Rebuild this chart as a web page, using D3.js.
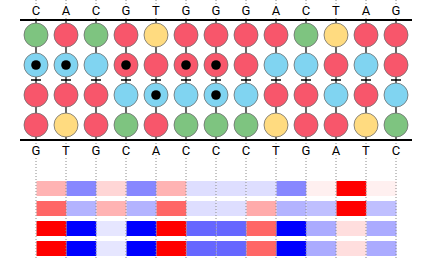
<!DOCTYPE html>
<html>
<head>
<meta charset="utf-8">
<script src="https://cdn.jsdelivr.net/npm/d3@7"></script>
<style>
  body { margin: 0; background: #fff; }
  svg { display: block; font-family: Roboto, "Liberation Sans", sans-serif; }
</style>
</head>
<body>
<svg class="seqChart"></svg>
<script>
// sequences and states
const topSeq    = ["C","A","C","G","T","G","G","G","A","C","T","A","G"];
const bottomSeq = ["G","T","G","C","A","C","C","C","T","G","A","T","C"];
const stateRow1 = ["u","u","u","m","m","m","m","m","u","u","m","u","m"];
const stateRow2 = ["m","m","m","u","u","u","u","u","m","m","u","m","u"];
const dotRow1   = [1,1,0,1,0,1,1,0,0,0,0,0,0];
const dotRow2   = [0,0,0,0,1,0,1,0,0,0,0,0,0];

// heat rows (negative = blue, positive = red), one value per gap between columns
const heat1 = [0.3, -0.47, 0.16, -0.47, 0.3, -0.13, -0.13, -0.13, -0.47, 0.06, 1, 0.06];
const heat2 = [0.6, -0.3, 0.3, -0.3, 0.6, -0.13, -0.13, 0.33, -0.3, -0.25, 1, -0.25];
const heat3 = [1, -1, -0.1, -1, 1, -0.6, -0.6, 0.6, -1, -0.33, 0.13, -0.33];
const heat4 = [1, -1, -0.1, -1, 1, -0.6, -0.6, 0.6, -1, -0.33, 0.13, -0.33];

const W = 439, H = 261;
const svg = d3.select(".seqChart").attr("width", W).attr("height", H);

const cols = d3.range(topSeq.length);
const x = d3.scalePoint().domain(cols).range([36, 396]);
const y = d3.scalePoint().domain([0, 1, 2, 3]).range([35, 125]);
const yHeat = d3.scaleBand().domain([0, 1, 2, 3]).range([181, 256]).paddingInner(0.25);

const fill = d3.scaleOrdinal()
    .domain(["A","G","C","T","m","u"])
    .range(["#f8566b","#f8566b","#7ec480","#ffdb80","#f8566b","#80d4f1"]);
const heatColor = d3.scaleLinear().domain([-1, 0, 1]).range(["#0000ff", "#ffffff", "#ff0000"]);

const circleRows = [topSeq, stateRow1, stateRow2, bottomSeq];
const dotRows = [null, dotRow1, dotRow2, null];
const heatRows = [heat1, heat2, heat3, heat4];

const strandTop = 20, strandBottom = 140;

// heatmap cells
heatRows.forEach(function(row, r) {
    svg.append("g").selectAll("rect")
        .data(row)
        .enter()
        .append("rect")
        .attr("x", (d, i) => x(i) + 0.5)
        .attr("width", (d, i) => x(i + 1) - x(i))
        .attr("y", yHeat(r))
        .attr("height", yHeat.bandwidth())
        .attr("fill", d => heatColor(d));
});

// dotted guides
const guides = svg.append("g").attr("stroke", "#8a8a8a").attr("stroke-dasharray", "1,2");
cols.forEach(function(i) {
    guides.append("line").attr("x1", x(i)).attr("x2", x(i)).attr("y1", 0).attr("y2", strandTop);
    guides.append("line").attr("x1", x(i)).attr("x2", x(i)).attr("y1", strandBottom).attr("y2", 258);
});

// connectors
cols.forEach(function(i) {
    svg.append("line")
        .attr("x1", x(i)).attr("x2", x(i))
        .attr("y1", strandTop).attr("y2", strandBottom)
        .attr("stroke", "black").attr("stroke-width", 1.2);
    const ym = (y(1) + y(2)) / 2;
    svg.append("line")
        .attr("x1", x(i) - 5).attr("x2", x(i) + 5)
        .attr("y1", ym).attr("y2", ym)
        .attr("stroke", "black").attr("stroke-width", 1.5);
});

// strand lines
[strandTop, strandBottom].forEach(function(yy) {
    svg.append("line")
        .attr("x1", 20).attr("x2", 412)
        .attr("y1", yy).attr("y2", yy)
        .attr("stroke", "black").attr("stroke-width", 2);
});

// circles
circleRows.forEach(function(row, r) {
    svg.append("g").selectAll("circle")
        .data(row)
        .enter()
        .append("circle")
        .attr("cx", (d, i) => x(i))
        .attr("cy", y(r))
        .attr("r", 12)
        .attr("fill", d => fill(d))
        .attr("stroke", "#6e6e6e")
        .attr("stroke-width", 0.8);
});

// dots
dotRows.forEach(function(row, r) {
    if (!row) return;
    svg.append("g").selectAll("circle")
        .data(cols.filter(i => row[i] === 1))
        .enter()
        .append("circle")
        .attr("cx", i => x(i))
        .attr("cy", y(r))
        .attr("r", 4.8)
        .attr("fill", "black");
});

// letters
function letters(seq, yy) {
    svg.append("g").selectAll("text")
        .data(seq)
        .enter()
        .append("text")
        .attr("x", (d, i) => x(i))
        .attr("y", yy)
        .attr("text-anchor", "middle")
        .style("font-size", "13px")
        .style("fill", "black")
        .style("stroke", "white")
        .style("stroke-width", 4)
        .style("paint-order", "stroke")
        .text(d => d);
}
letters(topSeq, 15);
letters(bottomSeq, 155);
</script>
</body>
</html>
